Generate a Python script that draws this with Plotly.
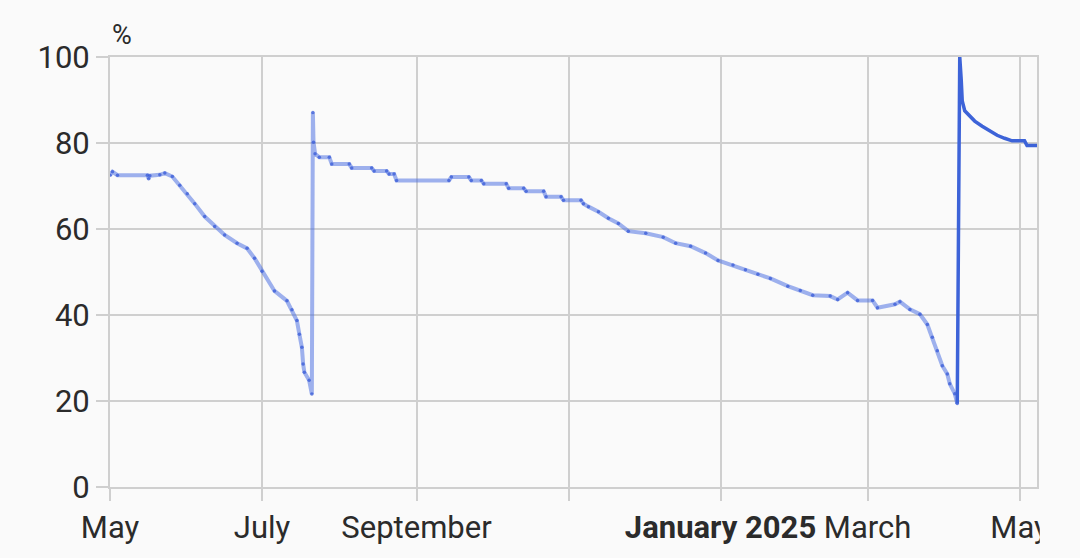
import plotly.graph_objects as go

# ---- data ----
hist_dates = [
    "2024-05-01", "2024-05-02", "2024-05-04", "2024-05-16", "2024-05-16 12:00", "2024-05-17",
    "2024-05-21", "2024-05-23", "2024-05-26", "2024-05-29", "2024-06-01", "2024-06-04",
    "2024-06-08", "2024-06-12", "2024-06-16", "2024-06-21", "2024-06-25", "2024-06-28",
    "2024-07-01", "2024-07-06", "2024-07-11", "2024-07-13", "2024-07-15", "2024-07-16",
    "2024-07-17", "2024-07-17 12:00", "2024-07-18", "2024-07-19 22:00", "2024-07-21",
    "2024-07-21 10:00", "2024-07-21 16:00", "2024-07-22 07:00", "2024-07-24", "2024-07-28",
    "2024-07-29", "2024-08-05", "2024-08-06", "2024-08-14", "2024-08-15", "2024-08-20",
    "2024-08-21", "2024-08-23", "2024-08-24", "2024-09-14", "2024-09-15", "2024-09-22",
    "2024-09-23", "2024-09-27", "2024-09-28", "2024-10-07", "2024-10-08", "2024-10-14",
    "2024-10-15", "2024-10-22", "2024-10-23", "2024-10-29", "2024-10-30", "2024-11-06",
    "2024-11-07", "2024-11-09", "2024-11-13", "2024-11-17", "2024-11-21", "2024-11-25",
    "2024-12-02", "2024-12-09", "2024-12-14", "2024-12-20", "2024-12-26", "2024-12-31",
    "2025-01-06", "2025-01-11", "2025-01-16", "2025-01-21", "2025-01-28", "2025-02-02",
    "2025-02-07", "2025-02-14", "2025-02-17", "2025-02-21", "2025-02-25", "2025-03-03",
    "2025-03-05", "2025-03-12", "2025-03-14", "2025-03-18", "2025-03-22", "2025-03-25",
    "2025-03-27", "2025-03-29", "2025-03-31", "2025-04-02", "2025-04-03", "2025-04-05",
    "2025-04-06",
]
hist_values = [
    72.5, 73.3, 72.5, 72.5, 71.7, 72.4,
    72.6, 73.0, 72.2, 70.2, 68.2, 65.9,
    62.9, 60.6, 58.6, 56.7, 55.5, 53.2,
    50.2, 45.6, 43.3, 41.2, 38.7, 35.5,
    32.5, 28.6, 26.7, 24.8, 21.6,
    87.1, 80.2, 77.5, 76.7, 76.7,
    75.1, 75.1, 74.2, 74.2, 73.5, 73.5,
    72.8, 72.8, 71.3, 71.3, 72.1, 72.1,
    71.3, 71.3, 70.5, 70.5, 69.5, 69.5,
    68.8, 68.8, 67.5, 67.5, 66.7, 66.7,
    65.9, 65.2, 64.0, 62.5, 61.3, 59.5,
    59.0, 58.1, 56.7, 56.0, 54.4, 52.7,
    51.6, 50.5, 49.5, 48.5, 46.7, 45.7,
    44.6, 44.4, 43.6, 45.2, 43.4, 43.4,
    41.7, 42.5, 43.1, 41.3, 40.2, 37.8,
    34.8, 31.7, 28.2, 26.3, 24.0, 21.7,
    19.4,
]

recent_dates = [
    "2025-04-06", "2025-04-07", "2025-04-07 14:00", "2025-04-08", "2025-04-09", "2025-04-11",
    "2025-04-13", "2025-04-16", "2025-04-19", "2025-04-22", "2025-04-25", "2025-04-28",
    "2025-05-03", "2025-05-04", "2025-05-08",
]
recent_values = [
    19.4, 100.0, 94.8, 89.8, 87.5, 86.3,
    85.1, 83.9, 82.8, 81.8, 81.1, 80.5,
    80.5, 79.4, 79.4,
]

tick_dates = ["2024-05-01", "2024-07-01", "2024-09-01", "2024-11-01",
              "2025-01-01", "2025-03-01", "2025-05-01"]
tick_labels = ["May", "July", "September", "", "<b>January 2025</b>", "March", "May"]
y_ticks = [0, 20, 40, 60, 80, 100]

BG = "#fafafa"
GRID = "#cfcfcf"
TXT = "#2b2b2b"

fig = go.Figure()
fig.add_trace(go.Scatter(
    x=hist_dates, y=hist_values, mode="lines+markers",
    line=dict(color="rgba(80,115,225,0.55)", width=4),
    marker=dict(color="rgba(55,90,215,0.75)", size=3.5),
    showlegend=False, hoverinfo="skip",
))
fig.add_trace(go.Scatter(
    x=recent_dates, y=recent_values, mode="lines",
    line=dict(color="#3d63d8", width=3.5),
    showlegend=False, hoverinfo="skip",
))

axis_common = dict(
    showgrid=True, gridcolor=GRID, gridwidth=2,
    showline=True, linecolor=GRID, linewidth=2, mirror=True,
    ticks="outside", ticklen=12, tickwidth=2, tickcolor=GRID,
    zeroline=False,
    tickfont=dict(family="Roboto", size=31, color=TXT),
)

fig.update_layout(
    width=1080, height=558,
    paper_bgcolor=BG, plot_bgcolor=BG,
    margin=dict(l=110, r=43, t=57, b=68),
    xaxis=dict(range=["2024-05-01", "2025-05-08"], tickvals=tick_dates,
               ticktext=tick_labels, **axis_common),
    yaxis=dict(range=[0, 100], tickvals=y_ticks, **axis_common),
    annotations=[dict(text="%", x=0, y=1, xref="paper", yref="paper",
                      xanchor="left", yanchor="bottom", yshift=4, showarrow=False,
                      font=dict(family="Roboto", size=27, color=TXT))],
    shapes=[dict(type="rect", xref="paper", yref="paper", x0=1.003, x1=1.2,
                 y0=-0.3, y1=-0.035, fillcolor=BG, line=dict(width=0), layer="above")],
)

fig.write_html(
    "out.html",
    config={"displayModeBar": False},
    post_script="document.body.style.margin='0';document.body.style.background='#fafafa';",
)
